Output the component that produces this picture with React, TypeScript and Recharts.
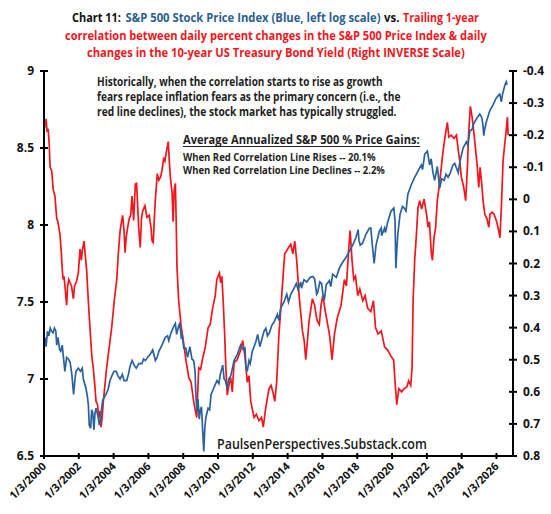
import React, { useLayoutEffect, useRef, useState } from "react";
import { ComposedChart, Line, XAxis, YAxis } from "recharts";

// S&P 500, natural log of the index (left axis)
const spxYears = [
  2000.0, 2000.05, 2000.12, 2000.2, 2000.28, 2000.36, 2000.44, 2000.52, 2000.6, 2000.68, 2000.73, 2000.8, 2000.9, 2000.96,
  2001.05, 2001.1, 2001.2, 2001.3, 2001.4, 2001.5, 2001.6, 2001.7, 2001.78, 2001.84, 2001.97,
  2002.1, 2002.2, 2002.26, 2002.41, 2002.5, 2002.55, 2002.6, 2002.68, 2002.74, 2002.8, 2002.87, 2002.93, 2002.99,
  2003.1, 2003.18, 2003.22, 2003.3, 2003.37, 2003.46, 2003.56, 2003.68, 2003.79, 2003.9,
  2004.02, 2004.15, 2004.25, 2004.37, 2004.5, 2004.6, 2004.75, 2004.85, 2004.94,
  2005.06, 2005.18, 2005.3, 2005.45, 2005.63, 2005.72, 2005.82, 2005.95,
  2006.1, 2006.25, 2006.4, 2006.5, 2006.6, 2006.78, 2006.97,
  2007.1, 2007.17, 2007.3, 2007.45, 2007.55, 2007.62, 2007.75, 2007.8, 2007.89, 2007.95,
  2008.03, 2008.15, 2008.25, 2008.38, 2008.5, 2008.6, 2008.68, 2008.72, 2008.78, 2008.85, 2008.92, 2008.99,
  2009.05, 2009.12, 2009.18, 2009.24, 2009.3, 2009.43, 2009.52, 2009.6, 2009.75, 2009.94,
  2010.05, 2010.13, 2010.27, 2010.35, 2010.42, 2010.53, 2010.62, 2010.73, 2010.85, 2010.92,
  2011.11, 2011.3, 2011.45, 2011.55, 2011.6, 2011.68, 2011.78, 2011.85, 2011.97,
  2012.17, 2012.28, 2012.4, 2012.5, 2012.64, 2012.75, 2012.84, 2012.95,
  2013.1, 2013.22, 2013.41, 2013.5, 2013.6, 2013.79, 2013.95,
  2014.05, 2014.18, 2014.37, 2014.5, 2014.6, 2014.75, 2014.8, 2014.94,
  2015.1, 2015.3, 2015.45, 2015.55, 2015.67, 2015.72, 2015.85, 2015.95,
  2016.05, 2016.12, 2016.21, 2016.4, 2016.48, 2016.59, 2016.8, 2016.97,
  2017.17, 2017.36, 2017.55, 2017.74, 2017.93,
  2018.05, 2018.1, 2018.17, 2018.3, 2018.5, 2018.7, 2018.78, 2018.85, 2018.97,
  2019.08, 2019.27, 2019.38, 2019.4, 2019.57, 2019.62, 2019.75, 2019.94,
  2020.1, 2020.17, 2020.22, 2020.28, 2020.33, 2020.46, 2020.6, 2020.7, 2020.8, 2020.91,
  2021.1, 2021.3, 2021.49, 2021.68, 2021.75, 2021.88,
  2022.03, 2022.16, 2022.25, 2022.35, 2022.45, 2022.6, 2022.74, 2022.85, 2022.99,
  2023.1, 2023.22, 2023.35, 2023.5, 2023.6, 2023.8, 2023.9,
  2024.08, 2024.27, 2024.35, 2024.47, 2024.6, 2024.66, 2024.85,
  2025.04, 2025.15, 2025.22, 2025.27, 2025.32, 2025.42, 2025.61, 2025.8, 2025.99,
  2026.1, 2026.19, 2026.28, 2026.35, 2026.44, 2026.52, 2026.57, 2026.6,
];
const spxLog = [
  7.24, 7.27, 7.21, 7.31, 7.28, 7.33, 7.31, 7.3, 7.33, 7.31, 7.22, 7.27, 7.19, 7.18,
  7.22, 7.16, 7.05, 7.14, 7.13, 7.11, 7.03, 6.9, 7.0, 7.05, 7.07,
  7.05, 7.07, 7.0, 6.94, 6.88, 6.83, 6.7, 6.68, 6.8, 6.78, 6.67, 6.78, 6.81,
  6.76, 6.7, 6.72, 6.8, 6.86, 6.88, 6.9, 6.93, 6.99, 7.02,
  7.05, 7.05, 7.02, 7.0, 7.03, 6.99, 6.99, 7.03, 7.08,
  7.12, 7.09, 7.07, 7.1, 7.1, 7.13, 7.12, 7.14,
  7.16, 7.19, 7.12, 7.14, 7.18, 7.22, 7.27,
  7.28, 7.25, 7.3, 7.34, 7.36, 7.29, 7.35, 7.36, 7.27, 7.28,
  7.2, 7.2, 7.14, 7.21, 7.13, 7.12, 7.05, 6.92, 6.79, 6.87, 6.74, 6.8,
  6.82, 6.66, 6.53, 6.68, 6.75, 6.81, 6.8, 6.9, 6.94, 6.99,
  6.97, 7.03, 7.09, 7.0, 6.99, 6.94, 7.0, 7.02, 7.08, 7.12,
  7.16, 7.22, 7.19, 7.2, 7.08, 7.05, 7.12, 7.1, 7.18,
  7.24, 7.29, 7.21, 7.25, 7.31, 7.33, 7.28, 7.3,
  7.35, 7.37, 7.42, 7.38, 7.46, 7.5, 7.55,
  7.5, 7.55, 7.59, 7.62, 7.58, 7.63, 7.59, 7.645,
  7.63, 7.66, 7.665, 7.65, 7.55, 7.56, 7.63, 7.62,
  7.53, 7.52, 7.61, 7.64, 7.6, 7.68, 7.66, 7.72,
  7.76, 7.79, 7.83, 7.87, 7.92,
  7.97, 7.9, 7.87, 7.88, 7.94, 7.98, 7.98, 7.89, 7.75,
  7.87, 7.96, 7.98, 7.93, 7.98, 7.95, 8.02, 8.09,
  8.11, 8.03, 7.72, 7.85, 7.94, 8.07, 8.12, 8.11, 8.09, 8.2,
  8.26, 8.31, 8.35, 8.39, 8.36, 8.46,
  8.48, 8.39, 8.43, 8.34, 8.29, 8.38, 8.24, 8.3, 8.29,
  8.33, 8.31, 8.34, 8.39, 8.4, 8.34, 8.41,
  8.5, 8.54, 8.52, 8.61, 8.62, 8.65, 8.69,
  8.72, 8.7, 8.65, 8.58, 8.62, 8.67, 8.74, 8.78, 8.825,
  8.84, 8.85, 8.8, 8.85, 8.89, 8.92, 8.93, 8.91,
];

// trailing 1-year correlation (right axis, inverted)
const corrYears = [
  2000.03, 2000.06, 2000.12, 2000.18, 2000.24, 2000.3, 2000.35, 2000.44, 2000.53, 2000.63, 2000.73, 2000.8, 2000.92,
  2001.0, 2001.05, 2001.1, 2001.15, 2001.22, 2001.3, 2001.36, 2001.42, 2001.5, 2001.58, 2001.69, 2001.75, 2001.85, 2001.97,
  2002.07, 2002.15, 2002.2, 2002.3, 2002.38, 2002.45, 2002.55, 2002.64, 2002.75, 2002.83, 2002.92, 2002.99,
  2003.08, 2003.15, 2003.22, 2003.28, 2003.34, 2003.41, 2003.5, 2003.6, 2003.75, 2003.89,
  2004.03, 2004.18, 2004.27, 2004.37, 2004.45, 2004.52, 2004.6, 2004.66, 2004.72, 2004.8, 2004.9, 2004.98,
  2005.06, 2005.15, 2005.25, 2005.32, 2005.44, 2005.53, 2005.6, 2005.67, 2005.8, 2005.92,
  2006.05, 2006.15, 2006.21, 2006.28, 2006.33, 2006.4, 2006.51, 2006.6, 2006.7, 2006.78, 2006.88, 2006.95,
  2007.07, 2007.14, 2007.2, 2007.26, 2007.36, 2007.42, 2007.48, 2007.55, 2007.6, 2007.64, 2007.74, 2007.89,
  2008.03, 2008.15, 2008.32, 2008.45, 2008.6, 2008.7, 2008.78, 2008.84, 2008.89,
  2009.0, 2009.1, 2009.27, 2009.43, 2009.55, 2009.69, 2009.84, 2009.93,
  2010.08, 2010.15, 2010.22, 2010.3, 2010.38, 2010.45, 2010.53, 2010.62, 2010.73, 2010.82, 2010.92,
  2011.1, 2011.3, 2011.42, 2011.55, 2011.68, 2011.78, 2011.88,
  2012.07, 2012.2, 2012.35, 2012.5, 2012.6, 2012.74, 2012.93,
  2013.05, 2013.15, 2013.26, 2013.37, 2013.5, 2013.64, 2013.75, 2013.83, 2013.95,
  2014.05, 2014.18, 2014.3, 2014.41, 2014.52, 2014.66, 2014.85, 2014.95,
  2015.04, 2015.14, 2015.23, 2015.42, 2015.55, 2015.63, 2015.71, 2015.82, 2015.92,
  2016.02, 2016.2, 2016.4, 2016.48, 2016.55, 2016.69, 2016.85,
  2017.07, 2017.26, 2017.38, 2017.49, 2017.59, 2017.7, 2017.8, 2017.9,
  2018.03, 2018.15, 2018.32, 2018.45, 2018.6, 2018.78, 2018.93,
  2019.05, 2019.2, 2019.38, 2019.57, 2019.75, 2019.95,
  2020.09, 2020.2, 2020.27, 2020.39, 2020.55, 2020.7, 2020.85, 2020.95,
  2021.07, 2021.15, 2021.21, 2021.3, 2021.4, 2021.49, 2021.59, 2021.7, 2021.84, 2021.98,
  2022.07, 2022.15, 2022.26, 2022.32, 2022.41, 2022.5, 2022.6, 2022.7, 2022.83, 2022.93,
  2023.07, 2023.18, 2023.26, 2023.4, 2023.56, 2023.7, 2023.79, 2023.89, 2023.98,
  2024.12, 2024.23, 2024.33, 2024.4, 2024.5, 2024.6, 2024.71, 2024.81, 2024.9, 2024.98,
  2025.06, 2025.15, 2025.23, 2025.33, 2025.45, 2025.56, 2025.63, 2025.75, 2025.86, 2025.99,
  2026.1, 2026.2, 2026.28, 2026.38, 2026.47, 2026.55, 2026.63, 2026.67,
];
const corrValues = [
  -0.22, -0.24, -0.25, -0.21, -0.22, -0.17, -0.1, -0.09, -0.03, -0.01, 0.06, 0.07, 0.11,
  0.17, 0.22, 0.25, 0.24, 0.28, 0.33, 0.27, 0.25, 0.26, 0.27, 0.31, 0.27, 0.26, 0.23,
  0.155, 0.19, 0.16, 0.13, 0.18, 0.22, 0.32, 0.4, 0.49, 0.525, 0.58, 0.63,
  0.64, 0.68, 0.66, 0.71, 0.68, 0.63, 0.58, 0.525, 0.46, 0.4,
  0.32, 0.25, 0.17, 0.1, 0.07, 0.05, 0.1, 0.166, 0.12, 0.09, 0.06, 0.05,
  -0.01, 0.066, -0.048, -0.05, 0.087, 0.15, 0.06, 0.036, 0.02, 0.056,
  0.05, 0.09, 0.13, 0.135, 0.07, 0.0, -0.08, -0.06, -0.07, -0.09, -0.13, -0.12,
  -0.16, -0.18, -0.12, -0.07, -0.02, 0.07, -0.03, -0.05, 0.08, 0.21, 0.316, 0.4,
  0.45, 0.5, 0.556, 0.57, 0.63, 0.66, 0.68, 0.59, 0.525,
  0.53, 0.5, 0.46, 0.4, 0.39, 0.34, 0.3, 0.25,
  0.23, 0.26, 0.24, 0.32, 0.42, 0.525, 0.61, 0.58, 0.556, 0.6, 0.51,
  0.5, 0.47, 0.44, 0.49, 0.57, 0.55, 0.63,
  0.68, 0.67, 0.69, 0.68, 0.71, 0.65, 0.59,
  0.58, 0.6, 0.63, 0.57, 0.42, 0.316, 0.23, 0.17, 0.16,
  0.15, 0.14, 0.17, 0.13, 0.19, 0.3, 0.41, 0.44,
  0.5, 0.44, 0.38, 0.31, 0.33, 0.36, 0.38, 0.39, 0.33,
  0.3, 0.36, 0.42, 0.46, 0.5, 0.42, 0.37,
  0.33, 0.25, 0.27, 0.17, 0.097, 0.19, 0.25, 0.24,
  0.3, 0.28, 0.316, 0.3, 0.34, 0.35, 0.316,
  0.4, 0.42, 0.41, 0.46, 0.47, 0.49,
  0.5, 0.59, 0.64, 0.59, 0.6, 0.59, 0.585, 0.566,
  0.58, 0.525, 0.316, 0.19, 0.11, 0.026, 0.004, 0.03, -0.001, 0.046,
  0.087, 0.07, 0.17, 0.19, 0.12, 0.09, 0.004, -0.037, -0.1, -0.15,
  -0.204, -0.24, -0.194, -0.2, -0.19, -0.2, -0.16, -0.12, -0.07,
  -0.037, 0.004, -0.1, -0.204, -0.29, -0.256, -0.204, -0.15, -0.1, -0.037,
  -0.1, -0.05, 0.004, 0.046, 0.06, 0.087, 0.046, 0.04, 0.046, 0.066,
  0.09, 0.12, 0.026, -0.12, -0.17, -0.21, -0.256, -0.2,
];

const yearTicks = [2000, 2002, 2004, 2006, 2008, 2010, 2012, 2014, 2016, 2018, 2020, 2022, 2024, 2026];
const leftTicks = [6.5, 7, 7.5, 8, 8.5, 9];
const rightTicks = [-0.4, -0.3, -0.2, -0.1, 0, 0.1, 0.2, 0.3, 0.4, 0.5, 0.6, 0.7, 0.8];

const spxData = spxYears.map((t, i) => ({ t, v: spxLog[i] }));
const corrData = corrYears.map((t, i) => ({ t, c: corrValues[i] }));

const BLUE = "#2a62a0";
const TITLE_BLUE = "#2c5f91";
const RED = "#f2161c";
const DARK = "#1e1e1e";
const FONT = "'Open Sans', 'Noto Sans', sans-serif";

function LeftTick({ x, y, payload }: any) {
  return (
    <g>
      <line x1={x + 4} x2={x + 12} y1={y} y2={y} stroke="#000" strokeWidth={2} />
      <text x={x - 2} y={y} dy={4} textAnchor="end" fontSize={12} fontWeight={700} fontFamily={FONT} fill="#111">
        {payload.value}
      </text>
    </g>
  );
}

function RightTick({ x, y, payload }: any) {
  const v = payload.value;
  const label = Math.abs(v) < 1e-9 ? "0" : v.toFixed(1);
  return (
    <g>
      <line x1={x - 12} x2={x - 4} y1={y} y2={y} stroke="#000" strokeWidth={2} />
      <text x={x + 2} y={y} dy={4} textAnchor="start" fontSize={12} fontWeight={700} fontFamily={FONT} fill="#111">
        {label}
      </text>
    </g>
  );
}

function YearTick({ x, y, payload }: any) {
  return (
    <g>
      <line x1={x} x2={x} y1={y - 9} y2={y - 3} stroke="#000" strokeWidth={2} />
      <text
        x={x + 3}
        y={y + 5}
        textAnchor="end"
        fontSize={11}
        fontWeight={700}
        fontFamily={FONT}
        fill="#111"
        transform={`rotate(-45, ${x + 3}, ${y + 5})`}
      >
        {`1/3/${payload.value}`}
      </text>
    </g>
  );
}

// squeezes a line of text horizontally to the width it has in the reference
function FitText({ x, y, width, size, fill, weight = 700, children }: any) {
  const ref = useRef<SVGTextElement>(null);
  const [k, setK] = useState(1);
  useLayoutEffect(() => {
    const w = ref.current ? ref.current.getComputedTextLength() : 0;
    if (w > 0) setK(width / w);
  }, [width]);
  return (
    <g transform={`translate(${x},${y}) scale(${k},1)`}>
      <text ref={ref} x={0} y={0} fontSize={size} fontWeight={weight} fill={fill} fontFamily={FONT}>
        {children}
      </text>
    </g>
  );
}

function Notes() {
  return (
    <svg width={551} height={514} style={{ position: "absolute", left: 0, top: 0, pointerEvents: "none" }}>
      <FitText x={72} y={22} width={49} size={13} fill="#111">Chart 11:</FitText>
      <FitText x={125.6} y={22} width={255} size={13} fill={TITLE_BLUE}>
        S&amp;P 500 Stock Price Index (Blue, left log scale)
      </FitText>
      <FitText x={384} y={22} width={15.4} size={13} fill="#111">vs.</FitText>
      <FitText x={403} y={22} width={76} size={13} fill={RED}>Trailing 1-year</FitText>
      <FitText x={65} y={39.5} width={422} size={13} fill={RED}>
        correlation between daily percent changes in the S&amp;P 500 Price Index &amp; daily
      </FitText>
      <FitText x={87} y={57} width={378} size={13} fill={RED}>
        changes in the 10-year US Treasury Bond Yield (Right INVERSE Scale)
      </FitText>

      <FitText x={97} y={86} width={286} size={11.5} fill={DARK}>
        Historically, when the correlation starts to rise as growth
      </FitText>
      <FitText x={97} y={101} width={304} size={11.5} fill={DARK}>
        fears replace inflation fears as the primary concern (i.e., the
      </FitText>
      <FitText x={97} y={116} width={300} size={11.5} fill={DARK}>
        red line declines), the stock market has typically struggled.
      </FitText>

      <FitText x={183} y={144} width={237} size={12.5} fill={DARK}>
        Average Annualized S&amp;P 500 % Price Gains:
      </FitText>
      <line x1={183} x2={420} y1={146.5} y2={146.5} stroke={DARK} strokeWidth={1} />
      <FitText x={183} y={160.5} width={193} size={10.5} fill={DARK}>
        When Red Correlation Line Rises -- 20.1%
      </FitText>
      <FitText x={183} y={174} width={202} size={10.5} fill={DARK}>
        When Red Correlation Line Declines -- 2.2%
      </FitText>

      <FitText x={217} y={449} width={210} size={14} weight={600} fill="#1a1a1a">
        PaulsenPerspectives.Substack.com
      </FitText>
    </svg>
  );
}

export default function App() {
  return (
    <div style={{ position: "absolute", left: 0, top: 0, width: 551, height: 514, background: "#fff" }}>
      <ComposedChart width={551} height={514} margin={{ top: 71, right: 0, bottom: 0, left: 0 }}>
        <XAxis
          type="number"
          dataKey="t"
          domain={[2000, 2026.95]}
          ticks={yearTicks}
          allowDataOverflow
          height={58}
          axisLine={{ stroke: "#000", strokeWidth: 2 }}
          tickLine={false}
          tickSize={3}
          tickMargin={3}
          tick={<YearTick />}
          interval={0}
        />
        <YAxis
          yAxisId="left"
          orientation="left"
          domain={[6.5, 9]}
          ticks={leftTicks}
          width={44}
          axisLine={{ stroke: "#000", strokeWidth: 2 }}
          tickLine={false}
          tickSize={4}
          tickMargin={4}
          tick={<LeftTick />}
          interval={0}
        />
        <YAxis
          yAxisId="right"
          orientation="right"
          reversed
          domain={[-0.4, 0.8]}
          ticks={rightTicks}
          width={38}
          axisLine={{ stroke: "#000", strokeWidth: 2 }}
          tickLine={false}
          tickSize={4}
          tickMargin={4}
          tick={<RightTick />}
          interval={0}
        />
        <Line
          yAxisId="right"
          data={corrData}
          dataKey="c"
          type="linear"
          stroke={RED}
          strokeWidth={1.7}
          dot={false}
          isAnimationActive={false}
        />
        <Line
          yAxisId="left"
          data={spxData}
          dataKey="v"
          type="linear"
          stroke={BLUE}
          strokeWidth={1.7}
          dot={false}
          isAnimationActive={false}
        />
      </ComposedChart>
      <Notes />
    </div>
  );
}
